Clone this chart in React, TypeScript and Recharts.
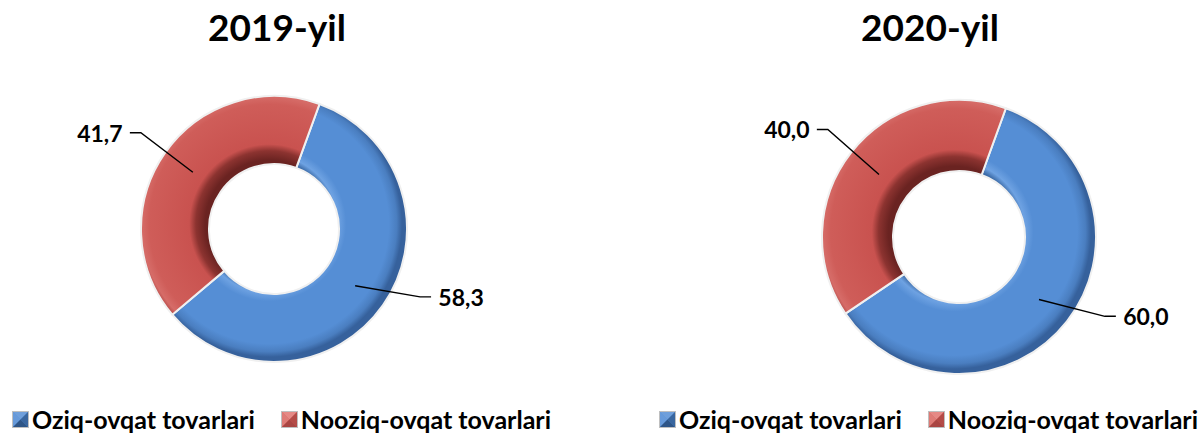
import React from "react";
import { PieChart, Pie, Cell, Legend } from "recharts";

const categories = ["Oziq-ovqat tovarlari", "Nooziq-ovqat tovarlari"];
const years = ["2019-yil", "2020-yil"];
const values2019 = [58.3, 41.7];
const values2020 = [60.0, 40.0];

const FONT = "Lato, 'Open Sans', sans-serif";
const RAD = Math.PI / 180;

const faceColors = ["#558ED5", "#CD5A56"];

// radial bevel stops for each series (offsets relative to outer radius)
const shading = [
  [
    [0.48, "#3D6CA8"],
    [0.52, "#6EA2E2"],
    [0.58, "#558ED5"],
    [0.9, "#558ED5"],
    [0.96, "#4A7EC0"],
    [1, "#36619C"],
  ],
  [
    [0.48, "#6A2321"],
    [0.55, "#8C3330"],
    [0.6, "#C9524F"],
    [0.9, "#CF5D59"],
    [0.96, "#D66C68"],
    [1, "#B04542"],
  ],
];

const fmt = (v: number) => v.toFixed(1).replace(".", ",");

function renderLabel(p: any) {
  const { cx, cy, midAngle, innerRadius, outerRadius, value } = p;
  const right = Math.cos(-midAngle * RAD) > 0;
  const rMid = (innerRadius + outerRadius) / 2;
  const sx = cx + rMid * Math.cos(-midAngle * RAD);
  const sy = cy + rMid * Math.sin(-midAngle * RAD);
  const la = midAngle + (right ? 15 : 6);
  const R = outerRadius + 66;
  const lx = cx + R * Math.cos(-la * RAD);
  const ly = cy + R * Math.sin(-la * RAD);
  const dir = right ? -1 : 1;
  const ex = lx + dir * 30;
  const kx = lx + dir * 41;
  return (
    <g>
      <polyline
        points={`${sx},${sy} ${kx},${ly} ${ex},${ly}`}
        fill="none"
        stroke="#000"
        strokeWidth={1.4}
      />
      <text
        x={lx}
        y={ly}
        textAnchor="middle"
        dominantBaseline="central"
        fontFamily={FONT}
        fontWeight={700}
        fontSize={23}
        fill="#000"
      >
        {fmt(value)}
      </text>
    </g>
  );
}

function LegendIcon({ color, dark, light }: { color: string; dark: string; light: string }) {
  return (
    <svg width={17} height={17} style={{ display: "block" }}>
      <rect x={0} y={0} width={17} height={17} fill={color} />
      <polygon points="0,0 17,0 8.5,8.5" fill={light} />
      <polygon points="0,0 0,17 8.5,8.5" fill={light} opacity={0.7} />
      <polygon points="17,0 17,17 8.5,8.5" fill={dark} opacity={0.7} />
      <polygon points="0,17 17,17 8.5,8.5" fill={dark} />
      <rect x={0.5} y={0.5} width={16} height={16} fill="none" stroke="#BFBFBF" strokeWidth={1} />
    </svg>
  );
}

const iconTones = [
  { dark: "#2E5587", light: "#6F9FDB" },
  { dark: "#A94542", light: "#E58985" },
];

function renderLegend() {
  return (
    <div style={{ display: "flex", alignItems: "center", fontFamily: FONT, fontWeight: 700, fontSize: 25, color: "#000", whiteSpace: "nowrap" }}>
      {categories.map((c, i) => (
        <div key={c} style={{ display: "flex", alignItems: "center", marginRight: i === 0 ? 26 : 0 }}>
          <LegendIcon color={faceColors[i]} dark={iconTones[i].dark} light={iconTones[i].light} />
          <span style={{ marginLeft: 3 }}>{c}</span>
        </div>
      ))}
    </div>
  );
}

type PanelProps = {
  id: string;
  title: string;
  values: number[];
  left: number;
  width: number;
  cx: number;
  cy: number;
  outer: number;
  inner: number;
  titleX: number;
  legendX: number;
};

function DonutPanel({ id, title, values, left, width, cx, cy, outer, inner, titleX, legendX }: PanelProps) {
  const data = categories.map((name, i) => ({ name, value: values[i] }));
  return (
    <div style={{ position: "absolute", left, top: 0, width, height: 434 }}>
      <div
        style={{
          position: "absolute",
          left: titleX - 150,
          width: 300,
          top: 8,
          textAlign: "center",
          fontFamily: FONT,
          fontWeight: 700,
          fontSize: 37,
          lineHeight: "37px",
          color: "#000",
        }}
      >
        {title}
      </div>
      <PieChart width={width} height={434}>
        <defs>
          {shading.map((stops, i) => (
            <radialGradient key={i} id={`${id}-g${i}`} gradientUnits="userSpaceOnUse" cx={cx} cy={cy} r={outer}>
              {stops.map(([o, c], k) => (
                <stop key={k} offset={o as number} stopColor={c as string} />
              ))}
            </radialGradient>
          ))}
        </defs>
        <Pie
          data={data}
          dataKey="value"
          nameKey="name"
          cx={cx}
          cy={cy}
          innerRadius={inner}
          outerRadius={outer}
          startAngle={70}
          endAngle={-290}
          stroke="#F0F0F0"
          strokeWidth={2}
          label={renderLabel}
          labelLine={false}
          isAnimationActive={false}
        >
          {data.map((d, i) => (
            <Cell key={d.name} fill={`url(#${id}-g${i})`} />
          ))}
        </Pie>
        <Legend
          content={renderLegend}
          wrapperStyle={{ left: legendX, top: 404, width: "auto", bottom: "auto" }}
        />
      </PieChart>
    </div>
  );
}

export default function App() {
  return (
    <div style={{ position: "absolute", left: 0, top: 0, width: 1203, height: 434, background: "#fff", overflow: "hidden" }}>
      <DonutPanel
        id="p2019"
        title={years[0]}
        values={values2019}
        left={0}
        width={601}
        cx={269}
        cy={224}
        outer={133}
        inner={65}
        titleX={277}
        legendX={12}
      />
      <DonutPanel
        id="p2020"
        title={years[1]}
        values={values2020}
        left={601}
        width={602}
        cx={353}
        cy={232}
        outer={137}
        inner={66}
        titleX={329}
        legendX={58}
      />
    </div>
  );
}
